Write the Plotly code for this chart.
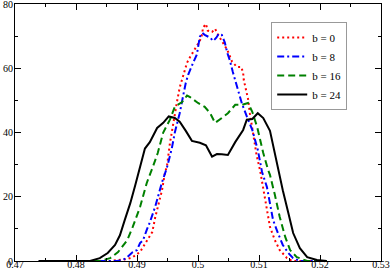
import plotly.graph_objects as go

# b = 0 (red dotted)
x_b0 = [0.4739, 0.4856, 0.4884, 0.4893, 0.4905, 0.4916, 0.4925, 0.4930, 0.4934, 0.4941, 0.4946, 0.4949,
        0.4954, 0.4960, 0.4966, 0.4970, 0.4975, 0.4979, 0.4982, 0.4987, 0.4992, 0.4998, 0.5003, 0.5007,
        0.5008, 0.5013, 0.5016, 0.5023, 0.5028, 0.5033, 0.5038, 0.5048, 0.5056, 0.5064, 0.5071, 0.5074,
        0.5075, 0.5079, 0.5082, 0.5085, 0.5090, 0.5096, 0.5102, 0.5107, 0.5113, 0.5118, 0.5126, 0.5134,
        0.5146, 0.5154, 0.5211]
y_b0 = [0, 0, 0.6, 1.2, 2.8, 6, 9, 13.7, 16.8, 22, 27.7, 29.3,
        36.7, 44, 50, 54, 57.3, 59.5, 61.7, 63.5, 65, 66.7, 68.5, 70.7,
        72.6, 73.8, 71.7, 71.3, 72.3, 70.4, 68.8, 65.7, 62, 60.4, 60.4, 58.6,
        56.4, 52.3, 50.5, 46, 40, 33, 28, 22, 16, 10.6, 6.5, 3.4,
        0.9, 0, 0]

# b = 8 (blue dash-dot)
x_b8 = [0.4739, 0.4867, 0.4877, 0.4884, 0.4893, 0.4900, 0.4905, 0.4910, 0.4916, 0.4921, 0.4930, 0.4934,
        0.4941, 0.4949, 0.4957, 0.4962, 0.4970, 0.4975, 0.4980, 0.4984, 0.4987, 0.4992, 0.4998, 0.5000,
        0.5003, 0.5007, 0.5011, 0.5020, 0.5025, 0.5030, 0.5034, 0.5039, 0.5044, 0.5048, 0.5052, 0.5057,
        0.5062, 0.5066, 0.5072, 0.5080, 0.5089, 0.5098, 0.5105, 0.5113, 0.5118, 0.5123, 0.5131, 0.5139,
        0.5148, 0.5156, 0.5167, 0.5211]
y_b8 = [0, 0, 0.3, 1.2, 2.8, 3.4, 5.6, 6.5, 9.7, 12, 17, 20,
        24.5, 29, 35, 40, 46, 50.8, 55.5, 58, 59.5, 61.7, 64.2, 66.7,
        69.8, 71, 70.4, 69.5, 68.5, 69.5, 70.7, 70.4, 68, 64.8, 62.6, 58.9,
        55.5, 52.6, 49, 45, 40.8, 34.6, 27.7, 23, 18, 12.8, 8.7, 5,
        2.5, 0.9, 0, 0]

# b = 16 (green dashed)
x_b16 = [0.4739, 0.4839, 0.4856, 0.4869, 0.4884, 0.4893, 0.4905, 0.4916, 0.4926, 0.4934, 0.4943, 0.4954,
         0.4962, 0.4974, 0.4982, 0.4987, 0.5000, 0.5011, 0.5020, 0.5028, 0.5039, 0.5049, 0.5061, 0.5072,
         0.5082, 0.5089, 0.5097, 0.5102, 0.5107, 0.5115, 0.5118, 0.5126, 0.5134, 0.5143, 0.5151, 0.5162,
         0.5179, 0.5211]
y_b16 = [0, 0, 0.9, 2.8, 6.5, 10.6, 16.8, 24.3, 29.3, 33.6, 40, 44,
         48, 49.5, 51.5, 51, 49.2, 48, 46, 43, 44.5, 46, 48.6, 48.6,
         49.2, 46.4, 41.7, 37.7, 33.6, 28.3, 26.8, 20.6, 13.7, 7.5, 3.4, 1.2,
         0, 0]

# b = 24 (black solid)
x_b24 = [0.4739, 0.4823, 0.4839, 0.4852, 0.4864, 0.4872, 0.4880, 0.4889, 0.4897, 0.4905, 0.4913, 0.4921,
         0.4933, 0.4943, 0.4952, 0.4962, 0.4970, 0.4980, 0.4990, 0.5003, 0.5013, 0.5023, 0.5031, 0.5039,
         0.5049, 0.5061, 0.5074, 0.5080, 0.5089, 0.5098, 0.5107, 0.5118, 0.5126, 0.5131, 0.5139, 0.5148,
         0.5156, 0.5167, 0.5179, 0.5195, 0.5205, 0.5211]
y_b24 = [0, 0, 0.9, 2.5, 5, 8, 12.8, 18, 23.5, 29, 35, 37,
         41.4, 43, 45, 44.5, 43.4, 40.5, 37.4, 36.8, 36, 32.5, 33.3, 33.2,
         33, 37, 40.8, 44, 44.2, 46, 44.5, 40.5, 33.6, 28.3, 22, 15,
         8.7, 4, 1.2, 0.3, 0, 0]

x_tickvals = [0.47, 0.48, 0.49, 0.50, 0.51, 0.52, 0.53]
x_ticktext = ["0.47", "0.48", "0.49", "0.5", "0.51", "0.52", "0.53"]
y_tickvals = [0, 20, 40, 60, 80]

series = [
    ("b = 0", x_b0, y_b0, "#ff0000", "2px,3px"),
    ("b = 8", x_b8, y_b8, "#0000ff", "7px,3px,2px,3px"),
    ("b = 16", x_b16, y_b16, "#008000", "7px,4px"),
    ("b = 24", x_b24, y_b24, "#000000", "solid"),
]

fig = go.Figure()
for name, xs, ys, col, dash in series:
    fig.add_trace(go.Scatter(x=xs, y=ys, mode="lines", name=name,
                             line=dict(color=col, width=2, dash=dash)))

font = "Liberation Serif, Times New Roman, serif"
axis_common = dict(showgrid=False, zeroline=False, showline=True, linecolor="black", linewidth=1,
                   mirror="allticks", ticks="inside", ticklen=6, tickcolor="black", tickwidth=1,
                   ticklabeloverflow="allow", automargin=False,
                   tickfont=dict(family=font, size=10, color="black"))

fig.update_xaxes(range=[0.47, 0.53], tickvals=x_tickvals, ticktext=x_ticktext,
                 ticklabelstandoff=-6,
                 minor=dict(dtick=0.005, ticks="inside", ticklen=3, tickcolor="black", showgrid=False),
                 **axis_common)
fig.update_yaxes(range=[0, 80], tickvals=y_tickvals, ticklabelstandoff=-1,
                 minor=dict(dtick=10, ticks="inside", ticklen=3, tickcolor="black", showgrid=False),
                 **axis_common)

fig.update_layout(
    width=390, height=273,
    margin=dict(l=15, r=9, t=4, b=12, autoexpand=False),
    plot_bgcolor="white", paper_bgcolor="white",
    font=dict(family=font, color="black"),
    legend=dict(x=0.70, y=0.93, xanchor="left", yanchor="top",
                bgcolor="white", bordercolor="#999999", borderwidth=1,
                font=dict(family=font, size=11, color="black"),
                tracegroupgap=0, itemwidth=30),
    showlegend=True,
)

fig.write_html("out.html", config={"displayModeBar": False},
               post_script="document.body.style.margin='0';document.body.style.padding='0';")
